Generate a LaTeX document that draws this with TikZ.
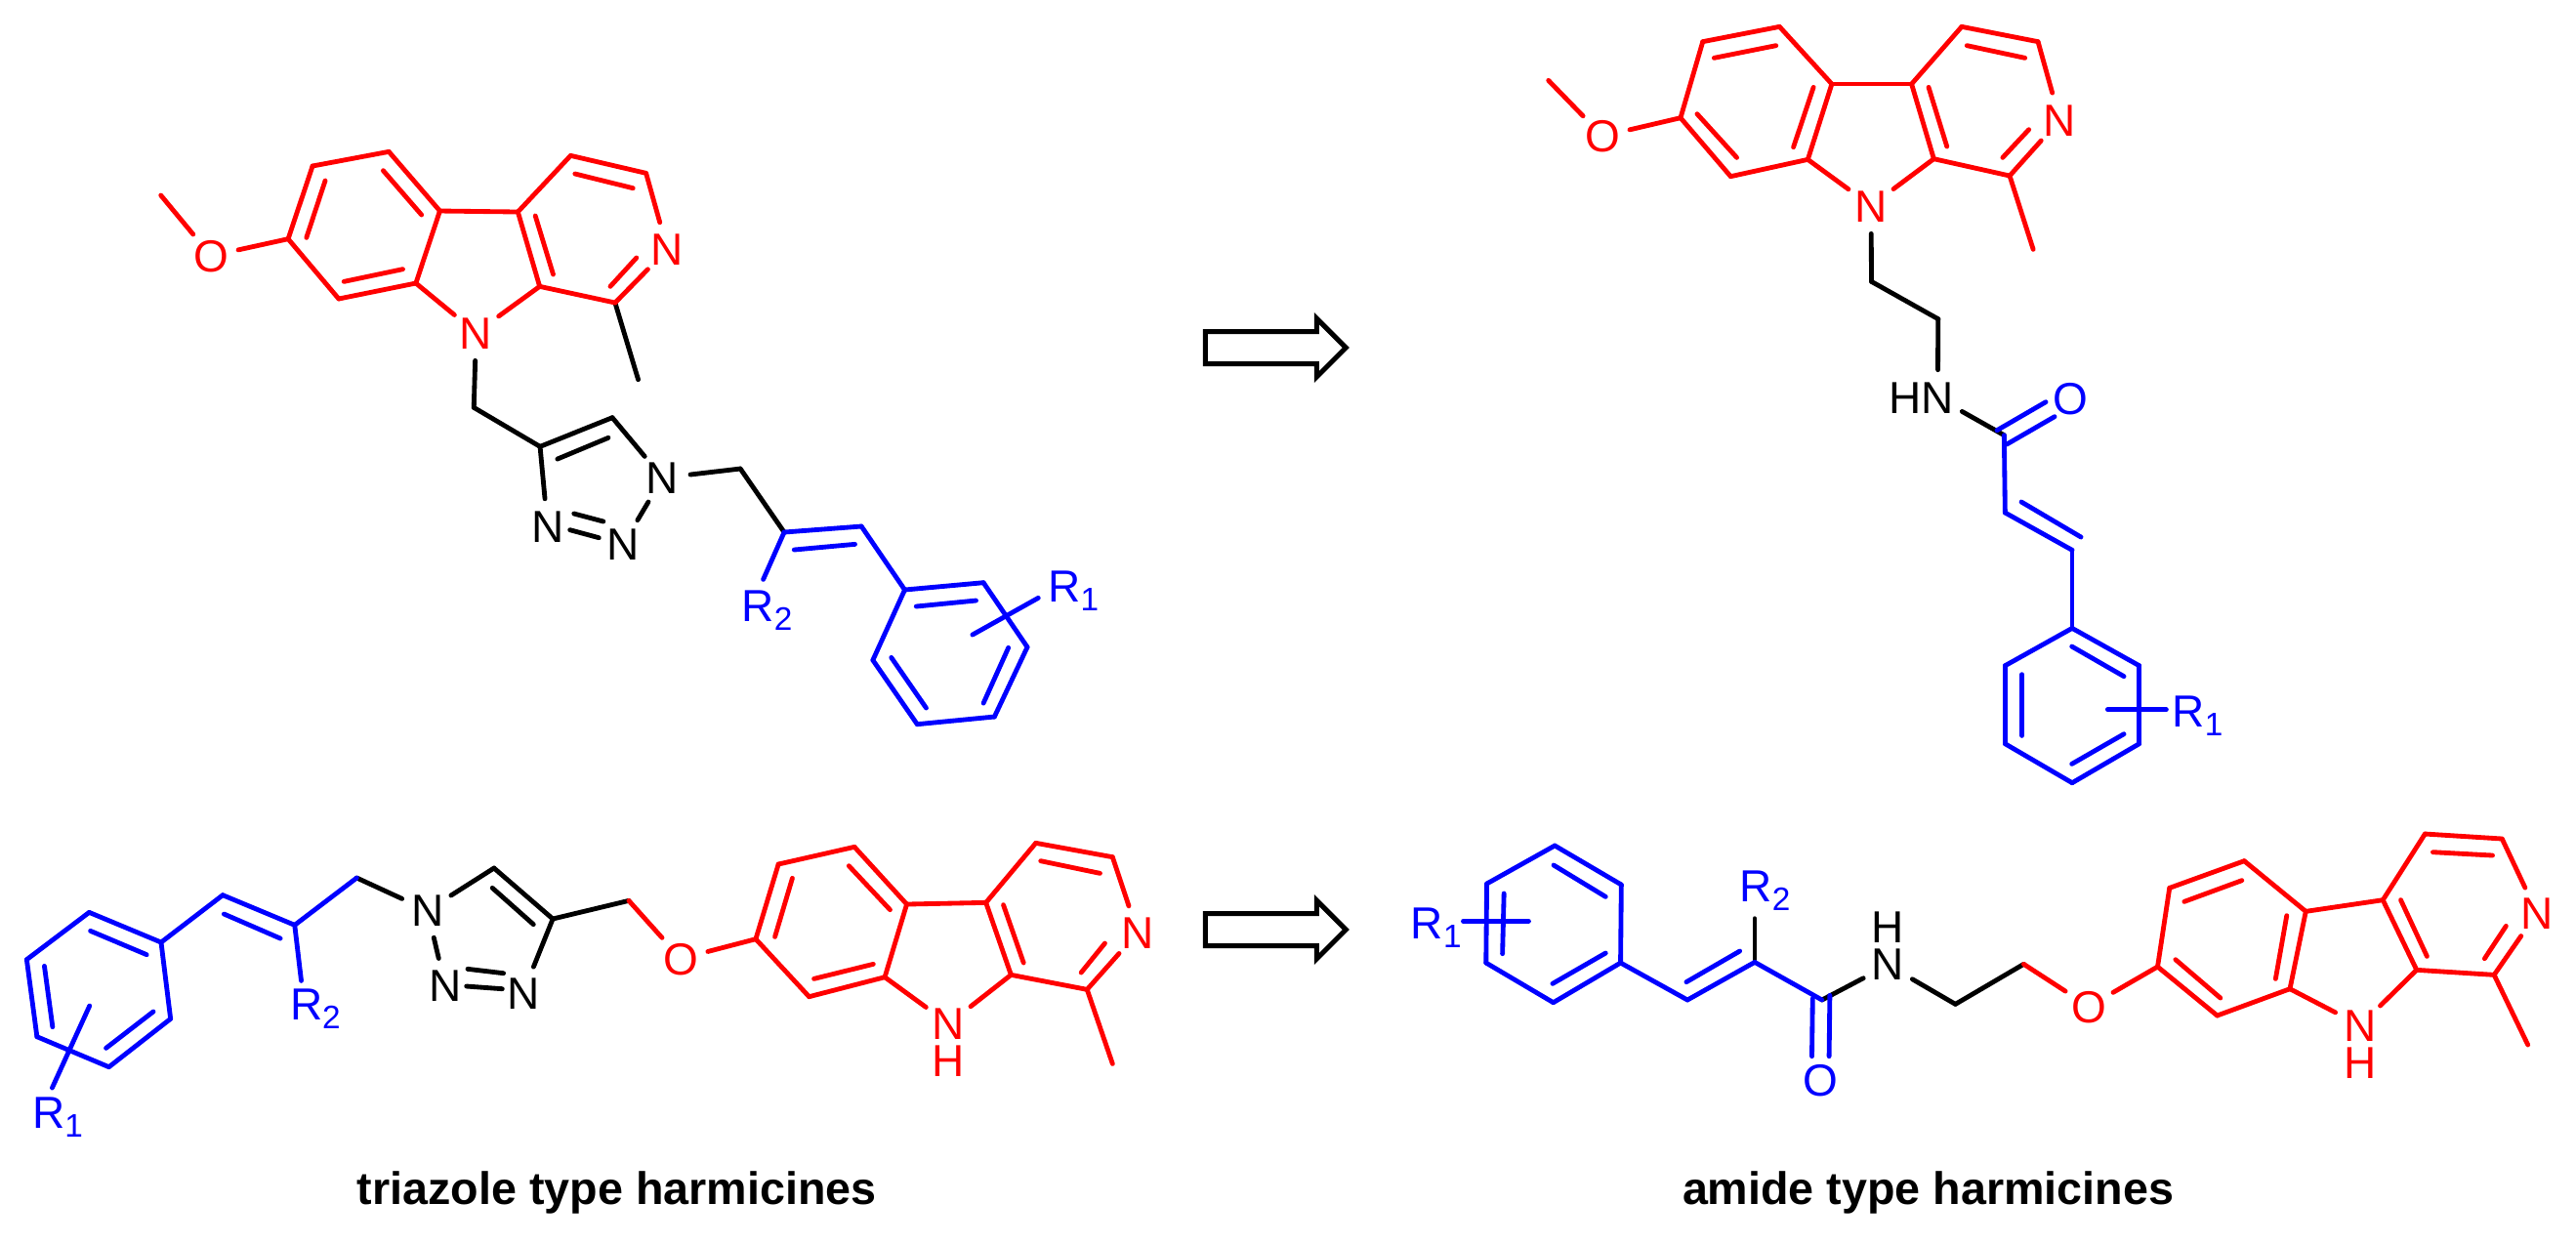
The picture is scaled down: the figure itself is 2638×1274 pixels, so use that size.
\documentclass[tikz,border=0pt]{standalone}
\usepackage{fontspec}
\setmainfont{Liberation Sans}
\usetikzlibrary{shapes.arrows}
\definecolor{cred}{HTML}{FF0000}
\definecolor{cblue}{HTML}{0000FF}
\tikzset{
  bond/.style={line width=1.45pt,line cap=round,line join=round},
  atom/.style={circle,inner sep=0pt,minimum size=16.8pt,text height=9.9pt,text depth=0pt,font=\fontsize{13.8pt}{16pt}\selectfont},
  stackatom/.style={anchor=north,inner sep=0pt,align=center,font=\fontsize{13.8pt}{11.4pt}\selectfont},
  rgroup/.style={anchor=base west,inner sep=0pt,xshift=-1pt,font=\fontsize{13.8pt}{16pt}\selectfont},
  caption/.style={anchor=base west,inner sep=0pt,font=\fontsize{14pt}{16pt}\selectfont\bfseries},
  fatarrow/.style={single arrow,draw=black,line width=1.5pt,fill=white,inner sep=0pt,inner ysep=4.2pt,minimum height=43.2pt,single arrow head extend=4pt,single arrow tip angle=90,single arrow head indent=0pt},
  zA/.style={shift={(100,100)},x=.13393pt,y=-.1pt},
  zB/.style={shift={(400,380)},x=.15306pt,y=-.1pt},
  zC/.style={shift={(1500,0)},x=.13393pt,y=-.1pt},
  zD/.style={shift={(1800,350)},x=.1pt,y=-.1pt},
  zE/.style={shift={(0,840)},x=.12626pt,y=-.1pt},
  zF/.style={shift={(640,840)},x=.10714pt,y=-.1pt},
  zG/.style={shift={(1420,840)},x=.1148pt,y=-.1pt},
  zH/.style={shift={(2000,820)},x=.12206pt,y=-.1pt},
}
\newcommand\pts[1]{\foreach \nm/\xx/\yy in {#1}{\coordinate (\nm) at (\xx,\yy);}}
\newcommand\bonds[2]{\foreach \pp/\qq in {#2}{\draw[bond,#1] (\pp)--(\qq);}}
\newcommand\inr[4]{\coordinate (#2s) at #3; \coordinate (#2e) at #4; \draw[bond,#1] (#2s)--(#2e);}
\newcommand\rsub[1]{R\raisebox{-2.7pt}{\fontsize{10pt}{10pt}\selectfont #1}}
\begin{document}
\begin{tikzpicture}[x=.3pt,y=-.3pt]
\useasboundingbox (0,0) rectangle (2638,1274);
% ---------- structure A: triazole, top left
\begin{scope}[zA]
\pts{Am/145/300,A2/437/434,A3/493/210,A4/668/166,A5/785/348,A6/730/570,A7/553/618,A8/964/351,A9/1085/178,A10/1258/232,A11/1187/630,A12/1014/580,Ame/1240/866,Ac/863/952}
\node[atom,text=cred] (AO) at (260,486) {O};
\node[atom,text=cred] (AN2) at (1307,466) {N};
\node[atom,text=cred] (AN9) at (868,722) {N};
\bonds{black}{A11/Ame,AN9/Ac}
\bonds{cred}{A2/AO,AO/Am,A2/A3,A3/A4,A4/A5,A5/A6,A6/A7,A7/A2,A5/A8,A8/A9,A9/A10,A10/AN2,AN2/A11,A11/A12,A12/A8,A6/AN9,A12/AN9}
\inr{cred}{Ai1}{(479,430)}{(522,255)}
\inr{cred}{Ai2}{(655,224)}{(743,360)}
\inr{cred}{Ai3}{(565,565)}{(700,527)}
\inr{cred}{Ai4}{(1004,363)}{(1045,543)}
\inr{cred}{Ai5}{(1095,234)}{(1228,278)}
\inr{cred}{Ai6}{(1176,580)}{(1236,492)}
\end{scope}
\begin{scope}[zB]
\pts{At1/300/232,At2/445/143,Ac2/702/300,Ac3/790/495,Ac4/945/477,Ac5/1032/672,Ac6/1190/650,Ac7/1278/848,Ac8/1212/1062,Ac9/1057/1085,Ac10/968/888,Ar2/748/640,Arx/1168/810,Ary/1300/697}
\node[atom] (AN1) at (546,328) {N};
\node[atom] (AN3) at (315,478) {N};
\node[atom] (AN4) at (467,532) {N};
\bonds{black}{Ac/At1,At1/At2,At2/AN1,At1/AN3,AN4/AN1,AN1/Ac2,Ac2/Ac3}
\inr{black}{Bi1}{(335,270)}{(437,205)}
\inr{black}{Bi2}{(368,438)}{(427,462)}
\inr{black}{Bi3}{(360,488)}{(418,512)}
\bonds{cblue}{Ac3/Ac4,Ac3/Ar2,Ac4/Ac5,Ac5/Ac6,Ac6/Ac7,Ac7/Ac8,Ac8/Ac9,Ac9/Ac10,Ac10/Ac5,Arx/Ary}
\inr{cblue}{Bi4}{(810,549)}{(932,532)}
\inr{cblue}{Bi5}{(1055,723)}{(1175,705)}
\inr{cblue}{Bi6}{(1240,850)}{(1190,1020)}
\inr{cblue}{Bi7}{(1075,1035)}{(1005,880)}
\node[rgroup,text=cblue] (Ar2l) at (710,768) {\rsub{2}};
\node[rgroup,text=cblue] (Ar1l) at (1325,710) {\rsub{1}};
\end{scope}
% ---------- structure B: amide, top right
\begin{scope}[zC]
\pts{Bm/192/247,B2/495/362,B3/546/128,B4/722/82,B5/842/258,B6/787/490,B7/610/542,B8/1025/258,B9/1140/82,B10/1315/128,B11/1250/540,B12/1076/488,Bme/1304/766,Bc1/933/865,Bc2/1086/980}
\node[atom,text=cred] (BO) at (316,418) {O};
\node[atom,text=cred] (BN2) at (1365,368) {N};
\node[atom,text=cred] (BN9) at (932,632) {N};
\bonds{cred}{B2/BO,BO/Bm,B2/B3,B3/B4,B4/B5,B5/B6,B6/B7,B7/B2,B5/B8,B8/B9,B9/B10,B10/BN2,BN2/B11,B11/B12,B12/B8,B6/BN9,B12/BN9,B11/Bme}
\inr{cred}{Ci1}{(572,178)}{(714,140)}
\inr{cred}{Ci2}{(800,268)}{(754,452)}
\inr{cred}{Ci3}{(533,350)}{(624,484)}
\inr{cred}{Ci4}{(1064,268)}{(1106,450)}
\inr{cred}{Ci5}{(1152,140)}{(1285,178)}
\inr{cred}{Ci6}{(1234,484)}{(1294,398)}
\bonds{black}{BN9/Bc1,Bc1/Bc2}
\end{scope}
\begin{scope}[zD]
\pts{BC/757/287,Bd1/760/525,Bd2/966/640,Be1/966/880,Be2/1172/995,Be3/1172/1235,Be4/966/1355,Be5/760/1235,Be6/760/995,Brx/1075/1130,Bry/1255/1130}
\node[atom] (BN) at (553,172) {N};
\node[atom,minimum size=0pt] (BH) at (452,172) {H};
\node[atom,text=cblue] (BOa) at (962,174) {O};
\bonds{black}{Bc2/BN,BN/BC}
\inr{cblue}{Di1}{(735,272)}{(885,185)}
\inr{cblue}{Di2}{(765,315)}{(912,230)}
\bonds{cblue}{BC/Bd1,Bd1/Bd2,Bd2/Be1,Be1/Be2,Be2/Be3,Be3/Be4,Be4/Be5,Be5/Be6,Be6/Be1,Brx/Bry}
\inr{cblue}{Di3}{(810,492)}{(993,600)}
\inr{cblue}{Di4}{(965,936)}{(1125,1028)}
\inr{cblue}{Di5}{(1125,1205)}{(965,1297)}
\inr{cblue}{Di6}{(812,1210)}{(812,1022)}
\node[rgroup,text=cblue] (Br1l) at (1282,1184) {\rsub{1}};
\end{scope}
% ---------- structure C: triazole, bottom left
\begin{scope}[zE]
\pts{C1/392/375,C2/217/283,C3/65/428,C4/90/665,C5/265/758,C6/415/610,Cg1/542/230,Cg2/717/322,Cg3/868/177,Cr2/733/493,Crx/218/570,Cry/127/822,Ct1/1202/147,Ct2/1345/303,Cc/1530/247}
\node[atom] (CN1) at (1040,277) {N};
\node[atom] (CN2) at (1083,508) {N};
\node[atom] (CN3) at (1273,530) {N};
\bonds{black}{Cg3/CN1,CN1/Ct1,Ct1/Ct2,Ct2/CN3,CN1/CN2,Ct2/Cc}
\inr{black}{Ei1}{(1198,208)}{(1298,320)}
\inr{black}{Ei2}{(1138,457)}{(1225,470)}
\inr{black}{Ei3}{(1135,510)}{(1222,518)}
\bonds{cblue}{C1/C2,C2/C3,C3/C4,C4/C5,C5/C6,C6/C1,C1/Cg1,Cg1/Cg2,Cg2/Cg3,Cg2/Cr2,Crx/Cry}
\inr{cblue}{Ei4}{(357,413)}{(220,340)}
\inr{cblue}{Ei5}{(108,448)}{(128,635)}
\inr{cblue}{Ei6}{(258,700)}{(373,588)}
\inr{cblue}{Ei7}{(545,288)}{(682,363)}
\node[rgroup,text=cblue] (Cr2l) at (712,613) {\rsub{2}};
\node[rgroup,text=cblue] (Cr1l) at (85,945) {\rsub{1}};
\node[caption] (capL) at (868,1180) {triazole type harmicines};
\end{scope}
\begin{scope}[zF]
\pts{C12/375/365,C13/440/135,C14/658/82,C15/808/258,C16/745/482,C17/528/542,C18/1035/253,C19/1178/70,C20/1398/113,C21/1325/520,C22/1107/475,Cme/1398/748}
\node[atom,text=cred] (CO) at (160,425) {O};
\node[atom,text=cred] (CN4) at (1470,345) {N};
\node[atom] (CN5) at (928,625) {};
\node[stackatom,text=cred] (CNH) at (928,577) {N\\H};
\bonds{cred}{Cc/CO,C12/CO,C12/C13,C13/C14,C14/C15,C15/C16,C16/C17,C17/C12,C15/C18,C18/C19,C19/C20,C20/CN4,CN4/C21,C21/C22,C22/C18,C16/CN5,C22/CN5,C21/Cme}
\inr{cred}{Fi1}{(430,358)}{(480,178)}
\inr{cred}{Fi2}{(642,140)}{(760,275)}
\inr{cred}{Fi3}{(542,487)}{(712,442)}
\inr{cred}{Fi4}{(1085,260)}{(1143,438)}
\inr{cred}{Fi5}{(1192,125)}{(1362,163)}
\inr{cred}{Fi6}{(1308,468)}{(1376,378)}
\end{scope}
% ---------- structure D: amide, bottom right
\begin{scope}[zG]
\pts{D1/450/78,D2/628/198,D3/626/438,D4/446/560,D5/266/438,D6/268/195,Dl1/805/552,Dl2/985/436,Dl3/1165/552,Dr2/985/302,Drx/205/310,Dry/380/310,Dm1/1522/565}
\node[atom] (DN) at (1342,445) {};
\node[stackatom] (DHN) at (1342,280) {H\\N};
\node[atom,text=cblue] (DO) at (1160,797) {O};
\bonds{black}{Dl3/DN,DN/Dm1,Dl2/Dr2}
\bonds{cblue}{D1/D2,D2/D3,D3/D4,D4/D5,D5/D6,D6/D1,D3/Dl1,Dl1/Dl2,Dl2/Dl3,Drx/Dry}
\inr{cblue}{Gi1}{(447,138)}{(586,235)}
\inr{cblue}{Gi2}{(586,408)}{(444,502)}
\inr{cblue}{Gi3}{(310,410)}{(314,225)}
\inr{cblue}{Gi4}{(802,497)}{(945,402)}
\inr{cblue}{Gi5}{(1140,548)}{(1138,725)}
\inr{cblue}{Gi6}{(1186,538)}{(1184,725)}
\node[rgroup,text=cblue] (Dr1l) at (72,365) {\rsub{1}};
\node[rgroup,text=cblue] (Dr2l) at (952,250) {\rsub{2}};
\node[caption] (capR) at (790,1180) {amide type harmicines};
\end{scope}
\begin{scope}[zH]
\pts{Dm2/178/502,D12/515/510,D13/545/268,D14/733/185,D15/888/340,D16/848/578,D17/665/660,D18/1082/305,D19/1188/102,D20/1382/117,D21/1362/535,D22/1167/520,Dme/1447/750}
\node[atom,text=cred] (DO2) at (342,632) {O};
\node[atom,text=cred] (DN4) at (1470,345) {N};
\node[atom] (DN5) at (1025,690) {};
\node[stackatom,text=cred] (DNH) at (1025,642) {N\\H};
\bonds{black}{Dm1/Dm2}
\bonds{cred}{Dm2/DO2,D12/DO2,D12/D13,D13/D14,D14/D15,D15/D16,D16/D17,D17/D12,D15/D18,D18/D19,D19/D20,D20/DN4,DN4/D21,D21/D22,D22/D18,D16/DN5,D22/DN5,D21/Dme}
\inr{cred}{Hi1}{(582,310)}{(727,245)}
\inr{cred}{Hi2}{(840,353)}{(812,547)}
\inr{cred}{Hi3}{(560,488)}{(673,606)}
\inr{cred}{Hi4}{(1127,305)}{(1193,478)}
\inr{cred}{Hi5}{(1208,158)}{(1358,168)}
\inr{cred}{Hi6}{(1338,485)}{(1392,385)}
\end{scope}
% ---------- arrows
\node[fatarrow] (arrowTop) at (1298,356) {};
\node[fatarrow] (arrowBot) at (1298,952) {};
\end{tikzpicture}
\end{document}
